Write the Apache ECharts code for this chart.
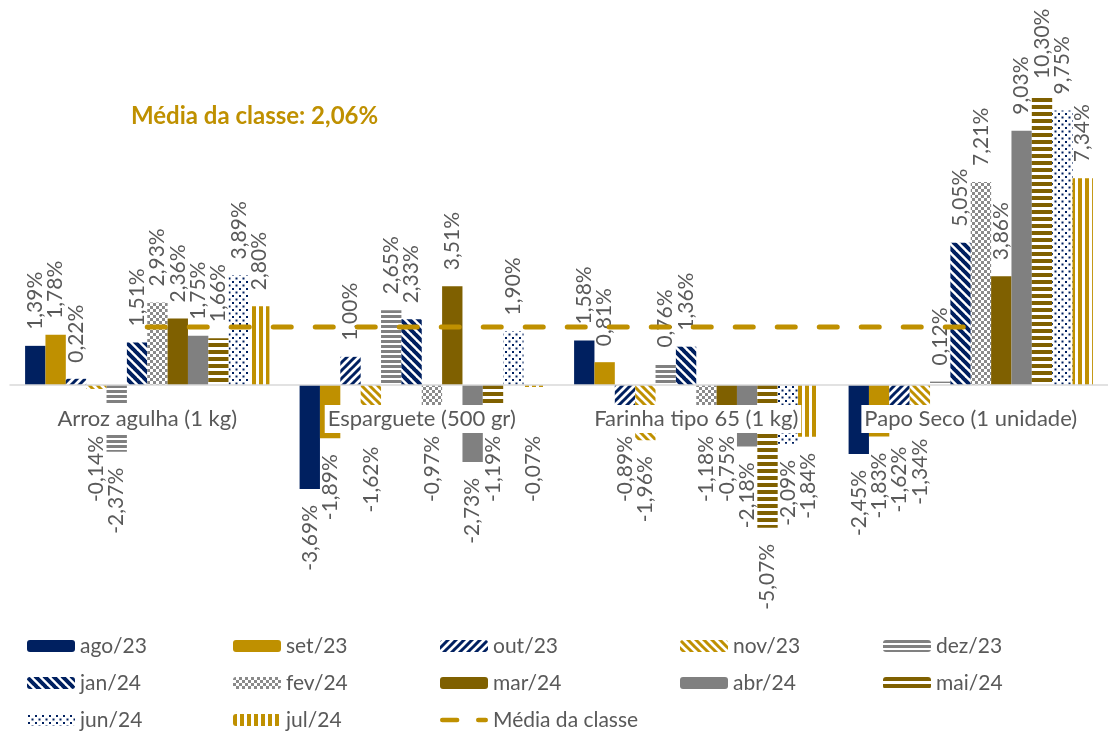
<!DOCTYPE html>
<html>
<head>
<meta charset="utf-8">
<script src="https://cdn.jsdelivr.net/npm/echarts@6/dist/echarts.min.js"></script>
<style>
  html, body { margin: 0; padding: 0; background: #fff; }
  #chart { width: 1108px; height: 731px; }
</style>
</head>
<body>
<div id="chart"></div>
<script>
const categories = ['Arroz agulha (1 kg)', 'Esparguete (500 gr)', 'Farinha tipo 65 (1 kg)', 'Papo Seco (1 unidade)']
const meses = ['ago/23', 'set/23', 'out/23', 'nov/23', 'dez/23', 'jan/24', 'fev/24', 'mar/24', 'abr/24', 'mai/24', 'jun/24', 'jul/24']

// variação por mês (%)
const ago23 = [1.39, -3.69, 1.58, -2.45]
const set23 = [1.78, -1.89, 0.81, -1.83]
const out23 = [0.22, 1.00, -0.89, -1.62]
const nov23 = [-0.14, -1.62, -1.96, -1.34]
const dez23 = [-2.37, 2.65, 0.76, 0.12]
const jan24 = [1.51, 2.33, 1.36, 5.05]
const fev24 = [2.93, -0.97, -1.18, 7.21]
const mar24 = [2.36, 3.51, -0.75, 3.86]
const abr24 = [1.75, -2.73, -2.18, 9.03]
const mai24 = [1.66, -1.19, -5.07, 10.30]
const jun24 = [3.89, 1.90, -2.09, 9.75]
const jul24 = [2.80, -0.07, -1.84, 7.34]
const mediaClasse = [2.06, 2.06, 2.06, 2.06]

const valores = [ago23, set23, out23, nov23, dez23, jan24, fev24, mar24, abr24, mai24, jun24, jul24]

const NAVY = '#002060'
const GOLD = '#BF9000'
const GRAY = '#808080'
const BROWN = '#7F6000'
const FONT = 'Lato'
const LABEL_DIST = 16
const AXIS_MARGIN = 20

// padrões de preenchimento (tramas tipo Excel)
const makePattern = (w, h, draw) => {
  const c = document.createElement('canvas')
  c.width = w
  c.height = h
  const ctx = c.getContext('2d')
  ctx.fillStyle = '#fff'
  ctx.fillRect(0, 0, w, h)
  draw(ctx, w, h)
  return { image: c, repeat: 'repeat' }
}

const diagonal = (color, size, lw, up) => makePattern(size, size, (ctx, w, h) => {
  ctx.strokeStyle = color
  ctx.lineWidth = lw
  ctx.beginPath()
  for (let k = -1; k <= 1; k++) {
    if (up) {
      ctx.moveTo(k * w - 1, h + 1)
      ctx.lineTo(k * w + w + 1, -1)
    } else {
      ctx.moveTo(k * w - 1, -1)
      ctx.lineTo(k * w + w + 1, h + 1)
    }
  }
  ctx.stroke()
})

const horizontal = (color, period, thick) => makePattern(4, period, (ctx) => {
  ctx.fillStyle = color
  ctx.fillRect(0, 0, 4, thick)
})

const vertical = (color, period, thick) => makePattern(period, 4, (ctx) => {
  ctx.fillStyle = color
  ctx.fillRect(0, 0, thick, 4)
})

const checker = makePattern(6, 6, (ctx) => {
  ctx.fillStyle = '#8a8a8a'
  ctx.fillRect(0, 0, 3, 3)
  ctx.fillRect(3, 3, 3, 3)
})

const dots = makePattern(7, 7, (ctx) => {
  ctx.fillStyle = NAVY
  ctx.fillRect(1, 1, 2, 2)
  ctx.fillRect(4.5, 4.5, 2, 2)
})

const fills = [
  NAVY,
  GOLD,
  diagonal(NAVY, 8, 3, true),
  diagonal(GOLD, 8, 3, false),
  horizontal(GRAY, 5, 3),
  diagonal(NAVY, 9, 4, false),
  checker,
  BROWN,
  GRAY,
  horizontal(BROWN, 7, 4),
  dots,
  vertical(GOLD, 7, 4)
]

const fmt = v => v.toFixed(2).replace('.', ',') + '%'

// negDist: distância do rótulo negativo (empurrado para baixo do rótulo do eixo)
const buildBars = (negDist) => meses.map((mes, i) => ({
  name: mes,
  type: 'bar',
  barGap: '0%',
  barCategoryGap: '11%',
  itemStyle: { color: fills[i] },
  data: valores[i].map(v => ({
    value: v,
    label: v >= 0
      ? { position: 'top', align: 'left' }
      : { position: 'bottom', align: 'right', distance: negDist(v) }
  })),
  label: {
    show: true,
    rotate: 90,
    distance: LABEL_DIST,
    verticalAlign: 'middle',
    color: '#595959',
    fontFamily: FONT,
    fontSize: 21,
    formatter: p => fmt(p.value)
  }
}))

const lineSeries = {
  name: 'Média da classe',
  type: 'line',
  symbol: 'none',
  z: 5,
  lineStyle: { color: GOLD, width: 5, type: [18, 24], cap: 'round' },
  itemStyle: { color: GOLD },
  data: mediaClasse
}

// ícone da legenda para a linha tracejada
const dashIcon = 'path://M2.5,0h16a2.5,2.5,0,0,1,0,5h-16a2.5,2.5,0,0,1,0,-5zM41.5,0h8a2.5,2.5,0,0,1,0,5h-8a2.5,2.5,0,0,1,0,-5z'

const legendCol = (names, left) => ({
  orient: 'vertical',
  left: left,
  top: 635,
  padding: 0,
  itemWidth: 48,
  itemHeight: 12,
  itemGap: 15,
  data: names.map(n => n === 'Média da classe' ? { name: n, icon: dashIcon } : n),
  textStyle: { color: '#595959', fontFamily: FONT, fontSize: 21, lineHeight: 22 }
})

const chart = echarts.init(document.getElementById('chart'))

const option = {
  animation: false,
  backgroundColor: '#fff',
  title: {
    text: 'Média da classe: 2,06%',
    left: 126,
    top: 99,
    textStyle: { color: GOLD, fontFamily: FONT, fontSize: 24, fontWeight: 'bold' }
  },
  legend: [
    legendCol(['ago/23', 'jan/24', 'jun/24'], 27),
    legendCol(['set/23', 'fev/24', 'jul/24'], 233),
    legendCol(['out/23', 'mar/24', 'Média da classe'], 440),
    legendCol(['nov/23', 'abr/24'], 680),
    legendCol(['dez/23', 'mai/24'], 883)
  ],
  grid: { left: 10, top: 47, width: 1113, height: 507, containLabel: false },
  xAxis: {
    type: 'category',
    data: categories,
    z: 10,
    position: 'bottom',
    offset: -169,
    axisLine: { onZero: false, lineStyle: { color: '#d9d9d9', width: 1.5 } },
    axisTick: { show: false },
    axisLabel: {
      interval: 0,
      hideOverlap: false,
      margin: AXIS_MARGIN,
      color: '#595959',
      fontFamily: FONT,
      fontSize: 22,
      lineHeight: 24,
      backgroundColor: '#fff',
      padding: [2, 3]
    }
  },
  yAxis: {
    type: 'value',
    min: -6,
    max: 12,
    show: false,
    splitLine: { show: false }
  },
  series: [...buildBars(() => LABEL_DIST), lineSeries]
}

chart.setOption(option)

// como no Excel: rótulos negativos começam abaixo da caixa do rótulo da categoria
const zeroY = chart.convertToPixel({ yAxisIndex: 0 }, 0)
const minStart = zeroY + AXIS_MARGIN + 28 + 3
const negDist = v => {
  const bottom = chart.convertToPixel({ yAxisIndex: 0 }, v)
  return Math.max(LABEL_DIST, minStart - bottom)
}
chart.setOption({ series: [...buildBars(negDist), lineSeries] })
</script>
</body>
</html>
